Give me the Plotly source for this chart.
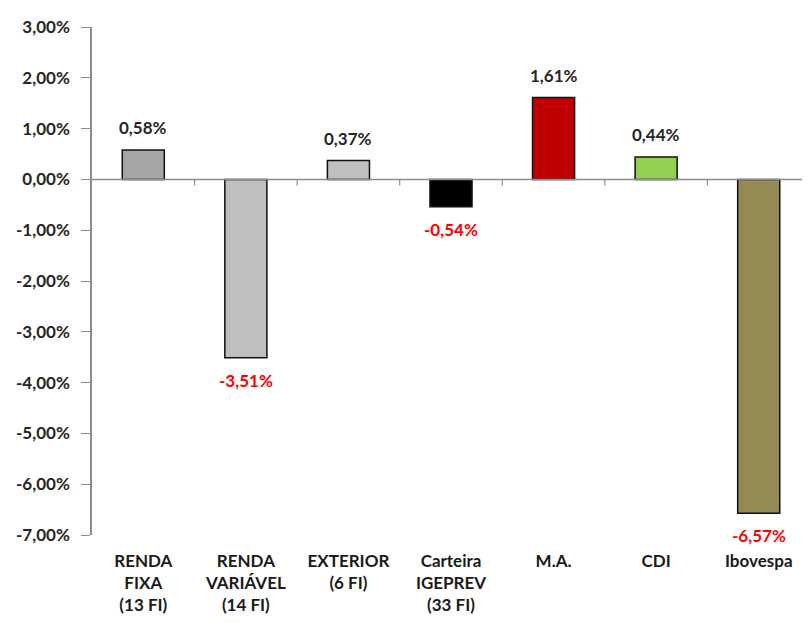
import plotly.graph_objects as go

categories = ["RENDA<br>FIXA<br>(13 FI)", "RENDA<br>VARIÁVEL<br>(14 FI)", "EXTERIOR<br>(6 FI)",
              "Carteira<br>IGEPREV<br>(33 FI)", "M.A.", "CDI", "Ibovespa"]
values = [0.58, -3.51, 0.37, -0.54, 1.61, 0.44, -6.57]
bar_colors = ["#a5a5a5", "#bfbfbf", "#bfbfbf", "#000000", "#c00000", "#92d050", "#948a54"]
y_ticks = [3, 2, 1, 0, -1, -2, -3, -4, -5, -6, -7]

FONT = "Lato, 'Open Sans', sans-serif"
FS = 17


def pct(v):
    return f"{v:.2f}".replace(".", ",") + "%"


yv = [v / 100 for v in values]
fig = go.Figure()
fig.add_trace(go.Bar(
    x=categories, y=yv, width=0.41,
    marker=dict(color=bar_colors, line=dict(color="#111111", width=1.5)),
    hoverinfo="skip",
))

for c, v in zip(categories, values):
    fig.add_annotation(
        x=c, y=v / 100, xref="x", yref="y",
        text="<b>" + pct(v) + "</b>",
        showarrow=False,
        yanchor="bottom" if v >= 0 else "top",
        yshift=10 if v >= 0 else -10,
        font=dict(family=FONT, size=FS, color="#262626" if v >= 0 else "#ff0000"),
    )

# zero line and small tick marks between categories
fig.add_shape(type="line", xref="paper", yref="y", x0=0, x1=1, y0=0, y1=0,
              line=dict(color="#8c8c8c", width=1.5))
for i in range(1, len(categories)):
    fig.add_shape(type="line", xref="x", yref="y", x0=i - 0.5, x1=i - 0.5,
                  y0=0, y1=-6, ysizemode="pixel", yanchor=0,
                  line=dict(color="#8c8c8c", width=1.2))

fig.update_layout(
    width=810, height=626,
    margin=dict(l=84, r=8, t=14, b=99),
    paper_bgcolor="white", plot_bgcolor="white",
    showlegend=False,
    font=dict(family=FONT, color="#262626"),
    xaxis=dict(showline=False, showgrid=False, zeroline=False, ticks="",
               tickfont=dict(family=FONT, size=FS, color="#1a1a1a", weight="bold"),
               ticklabelstandoff=14,
               range=[-0.5, len(categories) - 0.5], fixedrange=True),
    yaxis=dict(range=[-0.07, 0.03], tickvals=[t / 100 for t in y_ticks],
               ticktext=[pct(t) for t in y_ticks],
               showgrid=False, zeroline=False, showline=True, linecolor="#8c8c8c", linewidth=1.5,
               ticks="outside", ticklen=9, tickcolor="#8c8c8c", tickwidth=1.2,
               ticklabelstandoff=8,
               tickfont=dict(family=FONT, size=FS, color="#262626", weight="bold"),
               fixedrange=True),
)

fig.write_html("out.html")
